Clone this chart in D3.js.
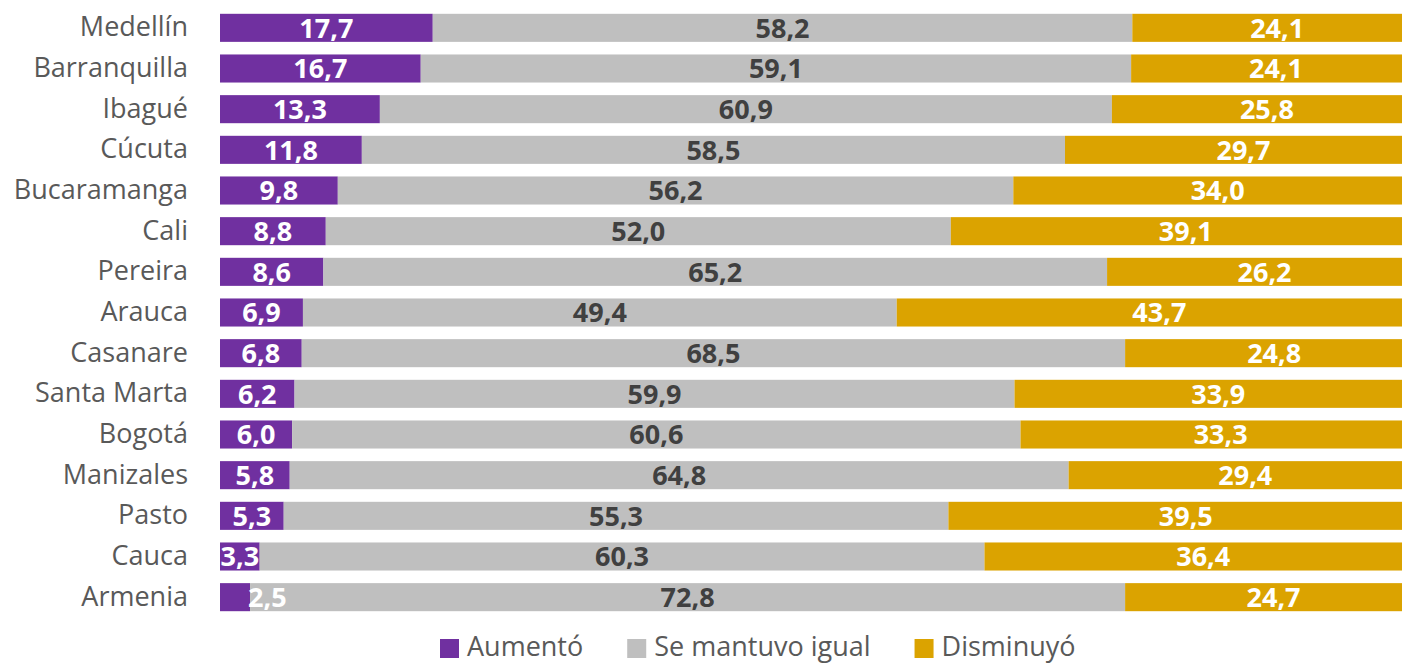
<!DOCTYPE html>
<html>
<head>
<meta charset="utf-8">
<script src="https://cdn.jsdelivr.net/npm/d3@7"></script>
<style>
  body { margin: 0; background: #fff; }
  svg { display: block; font-family: "Open Sans", sans-serif; }
</style>
</head>
<body>
<svg id="chart" width="1402" height="664"></svg>
<script>
const cities = ["Medellín", "Barranquilla", "Ibagué", "Cúcuta", "Bucaramanga", "Cali", "Pereira",
  "Arauca", "Casanare", "Santa Marta", "Bogotá", "Manizales", "Pasto", "Cauca", "Armenia"];
const aumento = [17.7, 16.7, 13.3, 11.8, 9.8, 8.8, 8.6, 6.9, 6.8, 6.2, 6.0, 5.8, 5.3, 3.3, 2.5];
const igual = [58.2, 59.1, 60.9, 58.5, 56.2, 52.0, 65.2, 49.4, 68.5, 59.9, 60.6, 64.8, 55.3, 60.3, 72.8];
const disminuyo = [24.1, 24.1, 25.8, 29.7, 34.0, 39.1, 26.2, 43.7, 24.8, 33.9, 33.3, 29.4, 39.5, 36.4, 24.7];
const seriesNames = ["Aumentó", "Se mantuvo igual", "Disminuyó"];

(() => {
    let svg = d3.select("#chart"),
        left = 220, right = 1422,
        x = d3.scaleLinear().domain([0, 100]).range([left, right]),
        y = d3.scaleBand().domain(cities).range([7.5, 617.5]).paddingInner(0.31).paddingOuter(0.155),
        z = d3.scaleOrdinal().domain(seriesNames).range(["#7030A0", "#BFBFBF", "#DBA300"]),
        labelColor = d3.scaleOrdinal().domain(seriesNames).range(["#ffffff", "#404040", "#ffffff"]);

    let data = cities.map((c, i) => ({city: c, Aumentó: aumento[i], "Se mantuvo igual": igual[i], Disminuyó: disminuyo[i]}));
    let stacked = d3.stack().keys(seriesNames)(data);

    // city labels
    svg.append("g")
        .attr("transform", "translate(" + (left - 32) + ",0)")
        .call(d3.axisLeft(y).tickSize(0).tickPadding(0))
        .call(g => g.select(".domain").remove())
        .selectAll("text")
        .attr("font-family", "Open Sans")
        .attr("font-size", 27)
        .attr("fill", "#595959");

    let layers = svg.selectAll(".layer")
        .data(stacked)
        .enter().append("g")
        .attr("class", "layer")
        .style("fill", d => z(d.key));

    layers.selectAll("rect")
        .data(d => d)
        .enter().append("rect")
        .attr("x", d => x(d[0]))
        .attr("y", d => y(d.data.city))
        .attr("width", d => x(d[1]) - x(d[0]))
        .attr("height", y.bandwidth());

    // value labels
    stacked.forEach(layer => {
        svg.append("g")
            .selectAll("text")
            .data(layer)
            .enter().append("text")
            .attr("x", d => (x(d[0]) + x(d[1])) / 2)
            .attr("y", d => y(d.data.city) + y.bandwidth() / 2)
            .attr("dy", ".36em")
            .attr("text-anchor", "middle")
            .attr("font-size", 27)
            .attr("font-weight", "bold")
            .attr("fill", labelColor(layer.key))
            .text(d => d3.format(".1f")(d[1] - d[0]).replace(".", ","))
            .each(function(d) {
                let w = this.getComputedTextLength(), seg = x(d[1]) - x(d[0]);
                if (w > seg + 2) {
                    d3.select(this).attr("text-anchor", "start").attr("x", x(d[1]) - 2);
                }
            });
    });

    // legend
    let legend = svg.append("g").attr("transform", "translate(440,634)");
    let lx = 0;
    seriesNames.forEach(name => {
        let item = legend.append("g").attr("transform", "translate(" + lx + ",0)");
        item.append("rect").attr("y", 5).attr("width", 19).attr("height", 19).attr("fill", z(name));
        let t = item.append("text")
            .attr("x", 27)
            .attr("y", 12)
            .attr("dy", ".36em")
            .attr("font-size", 27)
            .attr("fill", "#595959")
            .text(name);
        lx += 27 + t.node().getComputedTextLength() + 44;
    });
})();
</script>
</body>
</html>
